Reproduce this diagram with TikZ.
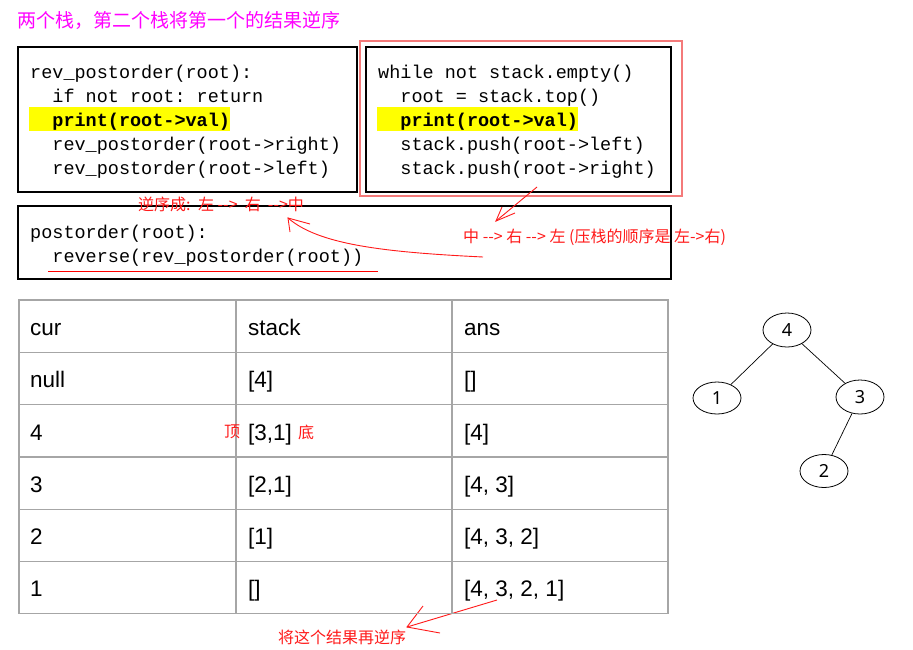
\documentclass[tikz,border=0pt]{standalone}
\usepackage{fontspec}
\setmainfont{Liberation Sans}
\setmonofont{Liberation Mono}
\newfontfamily\cjk{Noto Sans CJK SC}
\newfontfamily\treefont{Noto Sans}
\usetikzlibrary{shapes.geometric}
\definecolor{hl}{HTML}{FFFF00}
\definecolor{redbox}{HTML}{F47A7A}
\definecolor{annot}{HTML}{FF1A1A}
\definecolor{titlecol}{HTML}{FF00FF}
\definecolor{grid}{HTML}{A6A6A6}
\begin{document}
\begin{tikzpicture}[x=1pt,y=-1pt,
  codebox/.style={draw=black,line width=1.3pt},
  codeline/.style={anchor=base west,inner sep=0pt,font=\fontsize{18.5}{20}\ttfamily},
  celltext/.style={anchor=base west,inner sep=0pt,font=\fontsize{22.5}{24}\selectfont},
  redlabel/.style={inner sep=0pt,text=annot,font=\fontsize{16}{17}\cjk},
  redline/.style={draw=annot,line width=0.9pt},
  treenode/.style={ellipse,draw=black,line width=0.8pt,minimum width=48pt,minimum height=34pt,inner sep=0pt,font=\fontsize{18}{20}\treefont},
  treeedge/.style={draw=black,line width=0.7pt}]
\useasboundingbox (0,0) rectangle (913,649);
\fill[white] (0,0) rectangle (913,649);

% title
\node[anchor=west,inner sep=0pt,text=titlecol,font=\fontsize{19}{20}\cjk] (title) at (17,20) {两个栈，第二个栈将第一个的结果逆序};

% box 1
\fill[hl] (29,107) rectangle (230,131);
\draw[codebox] (18,47) rectangle (357,192);
\node[codeline] (a1) at (30,78) {rev\_postorder(root):};
\node[codeline] (a2) at (30,102) {\ \ if not root: return};
\node[codeline] (a3) at (30,126) {\ \ \textbf{print(root->val)}};
\node[codeline] (a4) at (30,150) {\ \ rev\_postorder(root->right)};
\node[codeline] (a5) at (30,174) {\ \ rev\_postorder(root->left)};

% box 2
\draw[draw=redbox,line width=1.3pt] (360,41) rectangle (682,196);
\fill[hl] (377,107) rectangle (578,131);
\draw[codebox] (366,47) rectangle (671,192);
\node[codeline] (b1) at (378,78) {while not stack.empty()};
\node[codeline] (b2) at (378,102) {\ \ root = stack.top()};
\node[codeline] (b3) at (378,126) {\ \ \textbf{print(root->val)}};
\node[codeline] (b4) at (378,150) {\ \ stack.push(root->left)};
\node[codeline] (b5) at (378,174) {\ \ stack.push(root->right)};

% box 3
\draw[codebox] (18,206) rectangle (671,279);
\node[codeline] (c1) at (30,238) {postorder(root):};
\node[codeline] (c2) at (30,262) {\ \ reverse(rev\_postorder(root))};
\coordinate (ulA) at (48,270.6);
\coordinate (ulB) at (378,272.2);
\fill[red] (ulA) rectangle (ulB);

% annotations
\node[redlabel,anchor=west] (rev) at (138,204) {逆序成:\, 左 -->\ \ 右 \ -->中};
\node[redlabel,anchor=west] (order) at (463,237) {中 --> 右 --> 左 (压栈的顺序是 左->右)};
\node[redlabel,anchor=west] (again) at (278,637) {将这个结果再逆序};

% arrow 1 (curved)
\coordinate (s1) at (483,257);
\coordinate (t1) at (288,218);
\coordinate (t1a) at (310,224);
\coordinate (t1b) at (290,232);
\draw[redline] (s1) .. controls (380,252) and (318,244) .. (t1);
\draw[redline] (t1a) -- (t1) -- (t1b);

% arrow 2
\coordinate (s2) at (537,187);
\coordinate (t2) at (496,221);
\coordinate (t2a) at (502,207);
\coordinate (t2b) at (515,213);
\draw[redline] (s2) -- (t2);
\draw[redline] (t2a) -- (t2) -- (t2b);

% arrow 3
\coordinate (s3) at (497,600);
\coordinate (t3) at (407,627);
\coordinate (t3a) at (423,606);
\coordinate (t3b) at (440,633);
\draw[redline] (s3) -- (t3);
\draw[redline] (t3a) -- (t3) -- (t3b);

% table
\draw[grid,line width=1.3pt] (19,300) rectangle (668,613.5);
\foreach \yy in {352.3,404.6,456.9,509.2,561.5} \draw[grid,line width=1.3pt] (19,\yy) -- (668,\yy);
\draw[grid,line width=1.3pt] (236,300) -- (236,613.5);
\draw[grid,line width=1.3pt] (452,300) -- (452,613.5);

\node[celltext] (r0a) at (30,335) {cur};
\node[celltext] (r0b) at (248,335) {stack};
\node[celltext] (r0c) at (464,335) {ans};
\node[celltext] (r1a) at (30,387) {null};
\node[celltext] (r1b) at (248,387) {[4]};
\node[celltext] (r1c) at (464,387) {[]};
\node[celltext] (r2a) at (30,440) {4};
\node[celltext] (r2b) at (248,440) {[3,1]};
\node[celltext] (r2c) at (464,440) {[4]};
\node[celltext] (r3a) at (30,492) {3};
\node[celltext] (r3b) at (248,492) {[2,1]};
\node[celltext] (r3c) at (464,492) {[4, 3]};
\node[celltext] (r4a) at (30,544) {2};
\node[celltext] (r4b) at (248,544) {[1]};
\node[celltext] (r4c) at (464,544) {[4, 3, 2]};
\node[celltext] (r5a) at (30,596) {1};
\node[celltext] (r5b) at (248,596) {[]};
\node[celltext] (r5c) at (464,596) {[4, 3, 2, 1]};

\node[redlabel] (top) at (232,432) {顶};
\node[redlabel] (bot) at (306,432) {底};

% tree
\node[treenode] (n4) at (787,330) {4};
\node[treenode,minimum height=32pt] (n1) at (717,398) {1};
\node[treenode] (n3) at (860,397) {3};
\node[treenode,minimum height=33pt] (n2) at (824,471) {2};
\draw[treeedge] (n4) -- (n1);
\draw[treeedge] (n4) -- (n3);
\draw[treeedge] (n3) -- (n2);
\end{tikzpicture}
\end{document}
